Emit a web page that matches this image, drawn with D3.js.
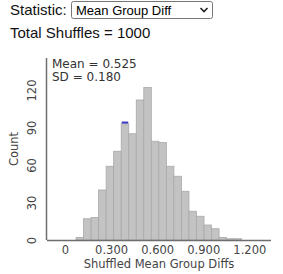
<!DOCTYPE html>
<html>
<head>
<meta charset="utf-8">
<script src="https://cdn.jsdelivr.net/npm/d3@7"></script>
<style>
  body { margin: 0; background: #fff; }
  svg { display: block; }
</style>
</head>
<body>
<div id="graph"></div>
<script>
// histogram bins (lower edge) and counts
const binLo = [0.072, 0.121, 0.170, 0.219, 0.268, 0.317, 0.366, 0.415, 0.464, 0.513, 0.562,
               0.611, 0.660, 0.709, 0.758, 0.807, 0.856, 0.905, 0.954, 1.003, 1.052, 1.101]
const counts = [2, 17, 18, 40, 59, 71, 93, 85, 112, 122, 79, 78, 59, 51, 39, 23, 19, 12, 9, 2, 1, 1]
const binWidth = 0.049
const observedBin = 0.366
const xTicks = [0, 0.3, 0.6, 0.9, 1.2]
const yTicks = [0, 30, 60, 90, 120]
const statText = ['Mean = 0.525', 'SD = 0.180']

const drawGraph = () => {
  const width = 283, height = 274
  const left = 47, right = 271, top = 58, bottom = 240

  const svg = d3.select('#graph').append('svg')
    .attr('width', width)
    .attr('height', height)

  // header: statistic picker + total
  svg.append('text').attr('x', 10).attr('y', 15)
    .style('font', '15px "Liberation Sans", Arial, sans-serif').attr('fill', '#111')
    .text('Statistic:')
  svg.append('rect').attr('x', 71.5).attr('y', 1.5).attr('width', 141).attr('height', 17)
    .attr('rx', 2).attr('fill', '#fff').attr('stroke', '#767676')
  svg.append('text').attr('x', 76).attr('y', 14.5)
    .style('font', '13px "Liberation Sans", Arial, sans-serif').attr('fill', '#000')
    .text('Mean Group Diff')
  svg.append('path').attr('d', 'M200.5,8 L204,11.5 L207.5,8')
    .attr('fill', 'none').attr('stroke', '#222').attr('stroke-width', 1.6)
  svg.append('text').attr('x', 10).attr('y', 37.5)
    .style('font', '15px "Liberation Sans", Arial, sans-serif').attr('fill', '#111')
    .text('Total Shuffles = 1000')

  const xScale = d3.scaleLinear().domain([-0.117, 1.341]).range([left, right])
  const yScale = d3.scaleLinear().domain([0, 145.6]).range([bottom, top])

  // bars
  svg.append('g').selectAll('rect').data(binLo).enter().append('rect')
    .attr('x', d => xScale(d))
    .attr('y', (d, i) => yScale(counts[i]))
    .attr('width', xScale(binWidth) - xScale(0))
    .attr('height', (d, i) => bottom - yScale(counts[i]))
    .attr('fill', '#c3c3c3')
    .attr('stroke', '#a9a9a9')
    .attr('stroke-width', 0.8)

  // observed marker on top of its bar
  const obsIdx = binLo.indexOf(observedBin)
  svg.append('rect')
    .attr('x', xScale(observedBin) + 0.5)
    .attr('y', yScale(counts[obsIdx]) - 2.2)
    .attr('width', xScale(binWidth) - xScale(0) - 1)
    .attr('height', 2)
    .attr('fill', '#3b3bc4')

  // axes
  const xAxis = d3.axisBottom(xScale).tickValues(xTicks).tickSize(0).tickPadding(6)
    .tickFormat(d => d === 0 ? '0' : d3.format('.3f')(d))
  const yAxis = d3.axisLeft(yScale).tickValues(yTicks).tickSize(0)

  const gx = svg.append('g').attr('transform', `translate(0, ${bottom})`).call(xAxis)
  gx.select('.domain').remove()
  gx.selectAll('text').style('font', '11.5px "DejaVu Sans", Verdana, sans-serif').attr('fill', '#444')

  const gy = svg.append('g').attr('transform', `translate(${left}, 0)`).call(yAxis)
  gy.select('.domain').remove()
  gy.selectAll('text')
    .attr('x', 0).attr('y', -11).attr('dy', null)
    .attr('text-anchor', 'middle')
    .attr('transform', 'rotate(-90)')
    .style('font', '11.5px "DejaVu Sans", Verdana, sans-serif').attr('fill', '#444')

  svg.append('line').attr('x1', left).attr('x2', right).attr('y1', bottom + 0.5).attr('y2', bottom + 0.5)
    .attr('stroke', '#6e6e6e').attr('stroke-width', 1.5)
  svg.append('line').attr('x1', left - 0.5).attr('x2', left - 0.5).attr('y1', top).attr('y2', bottom)
    .attr('stroke', '#6e6e6e').attr('stroke-width', 1.5)

  // axis titles
  svg.append('text').attr('x', (left + right) / 2).attr('y', 268)
    .attr('text-anchor', 'middle')
    .style('font', '11.5px "DejaVu Sans", Verdana, sans-serif').attr('fill', '#444')
    .text('Shuffled Mean Group Diffs')
  svg.append('text')
    .attr('transform', `translate(18, ${(top + bottom) / 2}) rotate(-90)`)
    .attr('text-anchor', 'middle')
    .style('font', '11.5px "DejaVu Sans", Verdana, sans-serif').attr('fill', '#444')
    .text('Count')

  // summary stats
  svg.append('g').selectAll('text').data(statText).enter().append('text')
    .attr('x', 52).attr('y', (d, i) => 67.5 + i * 13.5)
    .style('font', '12px "DejaVu Sans", Verdana, sans-serif').attr('fill', '#333')
    .text(d => d)
}

drawGraph()
</script>
</body>
</html>
